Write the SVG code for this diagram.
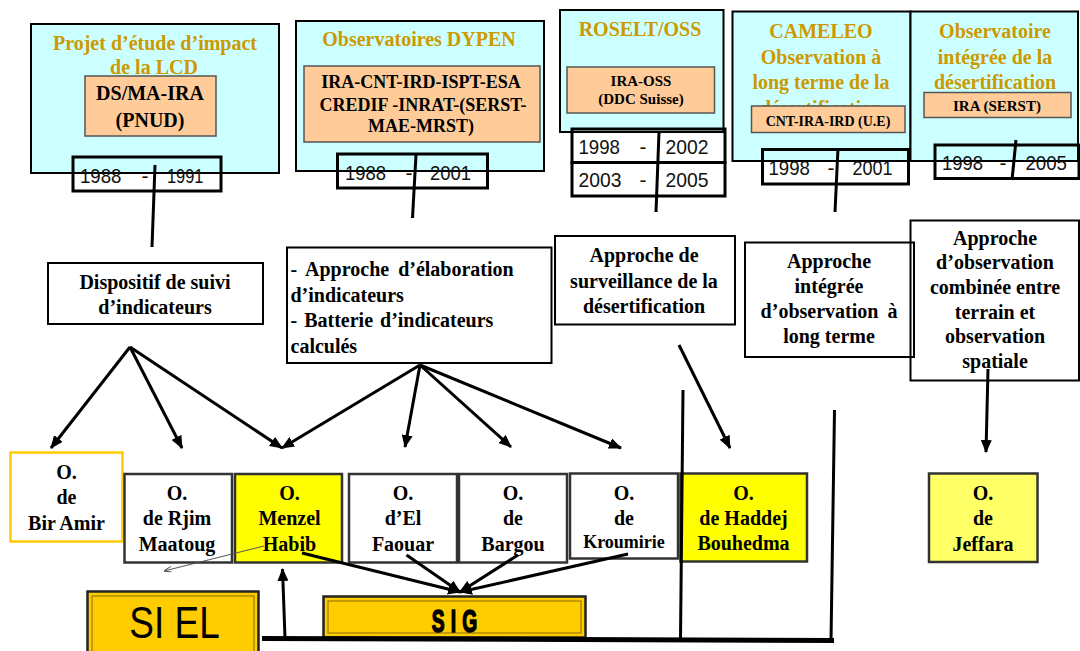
<svg xmlns="http://www.w3.org/2000/svg" width="1080" height="651" viewBox="0 0 1080 651">
<defs>
<style>
.cy{fill:#CCFFFF;stroke:#000;stroke-width:2}
.or{fill:#FFCC99;stroke:#555;stroke-width:1.5}
.dbox{fill:none;stroke:#000;stroke-width:3}
.ttl{font-family:"Liberation Serif","Times New Roman",serif;font-weight:bold;font-size:20px;fill:#CC9900;text-anchor:middle}
.bt{font-family:"Liberation Serif","Times New Roman",serif;font-weight:bold;font-size:20px;fill:#000;text-anchor:middle}
.lt{font-family:"Liberation Serif","Times New Roman",serif;font-weight:bold;font-size:20px;fill:#000}
.dt{font-family:"Liberation Sans",Arial,sans-serif;font-size:21px;fill:#111}
.dm{font-family:"Liberation Sans",Arial,sans-serif;font-size:21px;fill:#111;text-anchor:middle}
.ap{fill:#fff;stroke:#000;stroke-width:2}
.nd{fill:#fff;stroke:#333;stroke-width:2.5}
.ln{stroke:#000;stroke-width:3;fill:none}
.ar{stroke:#000;stroke-width:3;fill:none;marker-end:url(#ah)}
.gb{fill:#FFCC00;stroke:#222;stroke-width:2.5}
.gi{fill:none;stroke:#8A6A00;stroke-width:1}
</style>
<marker id="ah" markerUnits="userSpaceOnUse" markerWidth="13" markerHeight="11" refX="12" refY="5.5" orient="auto"><path d="M0,0 L13,5.5 L0,11 z" fill="#000"/></marker>
<marker id="ahg" markerUnits="userSpaceOnUse" markerWidth="8" markerHeight="6" refX="8" refY="3" orient="auto"><path d="M0,0 L8,3 L0,6" fill="none" stroke="#555" stroke-width="1"/></marker>
</defs>
<rect width="1080" height="651" fill="#fff"/>

<g id="proj-lcd">
<rect class="cy" x="31" y="24" width="248" height="149"/>
<text class="ttl" x="155" y="50">Projet d’étude d’impact</text>
<text class="ttl" x="154" y="74">de la LCD</text>
<rect class="or" x="85" y="76" width="131" height="60"/>
<text class="bt" x="150" y="100">DS/MA-IRA</text>
<text class="bt" x="150" y="127">(PNUD)</text>
<rect class="dbox" x="73" y="157" width="148" height="34"/>
<text class="dt" x="80" y="183" textLength="41.5" lengthAdjust="spacingAndGlyphs">1988</text>
<text class="dm" x="145" y="183">-</text>
<text class="dt" x="167" y="183" textLength="36.5" lengthAdjust="spacingAndGlyphs">1991</text>
</g>

<g id="dypen">
<rect class="cy" x="296" y="21" width="248" height="150"/>
<text class="ttl" x="419" y="46">Observatoires DYPEN</text>
<rect class="or" x="304" y="66" width="236" height="76"/>
<text class="bt" x="421" y="88" style="font-size:18px">IRA-CNT-IRD-ISPT-ESA</text>
<text class="bt" x="423" y="111" style="font-size:18px">CREDIF -INRAT-(SERST-</text>
<text class="bt" x="421" y="132" style="font-size:18px">MAE-MRST)</text>
<rect class="dbox" x="337.5" y="154" width="150" height="34"/>
<text class="dt" x="345" y="180" textLength="41" lengthAdjust="spacingAndGlyphs">1988</text>
<text class="dm" x="409" y="180">-</text>
<text class="dt" x="430" y="180" textLength="41" lengthAdjust="spacingAndGlyphs">2001</text>
</g>

<g id="roselt">
<rect class="cy" x="560" y="10" width="163.5" height="122"/>
<text class="ttl" x="640" y="36">ROSELT/OSS</text>
<rect class="or" x="567" y="67" width="147.5" height="46"/>
<text class="bt" x="641" y="86" style="font-size:15px">IRA-OSS</text>
<text class="bt" x="641" y="104" style="font-size:15px">(DDC Suisse)</text>
<rect class="dbox" x="572" y="129" width="153" height="33.5"/>
<rect class="dbox" x="572" y="162.5" width="153" height="33.5"/>
<text class="dt" x="578.5" y="154" textLength="41.5" lengthAdjust="spacingAndGlyphs">1998</text>
<text class="dm" x="643" y="154">-</text>
<text class="dt" x="665.5" y="154" textLength="43" lengthAdjust="spacingAndGlyphs">2002</text>
<text class="dt" x="578.5" y="187" textLength="43" lengthAdjust="spacingAndGlyphs">2003</text>
<text class="dm" x="643" y="187">-</text>
<text class="dt" x="665.5" y="187" textLength="43" lengthAdjust="spacingAndGlyphs">2005</text>
</g>

<g id="cameleo">
<rect class="cy" x="732.5" y="11.5" width="178" height="149.5"/>
<text class="ttl" x="821" y="38">CAMELEO</text>
<text class="ttl" x="821" y="64">Observation à</text>
<text class="ttl" x="821" y="89">long terme de la</text>
<text class="ttl" x="821" y="114.5">désertification</text>
<rect class="or" x="751.5" y="106" width="153.5" height="26.5"/>
<text class="bt" x="828" y="125.5" style="font-size:14px">CNT-IRA-IRD (U.E)</text>
<rect class="dbox" x="762.5" y="149.5" width="146" height="34.5"/>
<text class="dt" x="768.5" y="175" textLength="41.5" lengthAdjust="spacingAndGlyphs">1998</text>
<text class="dm" x="831" y="175">-</text>
<text class="dt" x="852.5" y="175" textLength="40" lengthAdjust="spacingAndGlyphs">2001</text>
</g>

<g id="obs-integree">
<rect class="cy" x="910.5" y="11.5" width="167.5" height="149.5"/>
<text class="ttl" x="995" y="38">Observatoire</text>
<text class="ttl" x="995" y="64">intégrée de la</text>
<text class="ttl" x="995" y="88.5">désertification</text>
<rect class="or" x="924" y="92.5" width="147" height="25"/>
<text class="bt" x="997" y="111" style="font-size:15px">IRA (SERST)</text>
<rect class="dbox" x="935" y="145" width="144" height="33.5"/>
<text class="dt" x="942" y="170" textLength="41" lengthAdjust="spacingAndGlyphs">1998</text>
<text class="dm" x="1003" y="170">-</text>
<text class="dt" x="1025.5" y="170" textLength="41.5" lengthAdjust="spacingAndGlyphs">2005</text>
</g>

<g id="dispositif">
<rect class="ap" x="48" y="263" width="215" height="61"/>
<text class="bt" x="155" y="289">Dispositif de suivi</text>
<text class="bt" x="155" y="314">d’indicateurs</text>
</g>

<g id="elaboration">
<rect class="ap" x="287" y="247.5" width="264.5" height="115.5"/>
<text class="lt" x="290.5" y="276" style="word-spacing:4px">- Approche d’élaboration</text>
<text class="lt" x="290.5" y="301.5">d’indicateurs</text>
<text class="lt" x="290.5" y="327" style="word-spacing:2px">- Batterie d’indicateurs</text>
<text class="lt" x="290.5" y="352.5">calculés</text>
</g>

<g id="surveillance">
<rect class="ap" x="555" y="236" width="180" height="88.5"/>
<text class="bt" x="644" y="262">Approche de</text>
<text class="bt" x="644" y="288">surveillance de la</text>
<text class="bt" x="644" y="313">désertification</text>
</g>

<g id="combinee">
<rect class="ap" x="910.5" y="220.5" width="168.5" height="160"/>
<text class="bt" x="995" y="244.5">Approche</text>
<text class="bt" x="995" y="269">d’observation</text>
<text class="bt" x="995" y="294">combinée entre</text>
<text class="bt" x="995" y="318.5">terrain et</text>
<text class="bt" x="995" y="343">observation</text>
<text class="bt" x="995" y="367.5">spatiale</text>
</g>

<g id="long-terme">
<rect x="745" y="242.5" width="169" height="114.5" fill="none" stroke="#000" stroke-width="2"/>
<text class="bt" x="829" y="268">Approche</text>
<text class="bt" x="829" y="293">intégrée</text>
<text class="bt" x="829" y="318" style="word-spacing:4px">d’observation à</text>
<text class="bt" x="829" y="343">long terme</text>
</g>

<g id="bir-amir">
<rect x="10.5" y="452.5" width="112" height="89" fill="#fff" stroke="#FFCC00" stroke-width="2.5"/>
<text class="bt" x="66.5" y="478.5">O.</text>
<text class="bt" x="66.5" y="503.5">de</text>
<text class="bt" x="66.5" y="529.5">Bir Amir</text>
</g>
<g id="rjim">
<rect class="nd" x="124.5" y="474" width="107.5" height="88.5"/>
<text class="bt" x="177" y="500">O.</text>
<text class="bt" x="177" y="525">de Rjim</text>
<text class="bt" x="177" y="550.5">Maatoug</text>
</g>
<g id="menzel">
<rect class="nd" x="235" y="474" width="107" height="88.5" style="fill:#FFFF00"/>
<text class="bt" x="289.5" y="500">O.</text>
<text class="bt" x="289.5" y="525">Menzel</text>
<text class="bt" x="289.5" y="550.5">Habib</text>
</g>
<g id="faouar">
<rect class="nd" x="349" y="474" width="108" height="88.5"/>
<text class="bt" x="403" y="500">O.</text>
<text class="bt" x="403" y="525">d’El</text>
<text class="bt" x="403" y="550.5">Faouar</text>
</g>
<g id="bargou">
<rect class="nd" x="459" y="474" width="108" height="88.5"/>
<text class="bt" x="513" y="500">O.</text>
<text class="bt" x="513" y="525">de</text>
<text class="bt" x="513" y="550.5">Bargou</text>
</g>
<g id="kroumirie">
<rect class="nd" x="570" y="473.5" width="108" height="85"/>
<text class="bt" x="624" y="500">O.</text>
<text class="bt" x="624" y="525">de</text>
<text class="bt" x="624" y="547.5" style="font-size:18px">Kroumirie</text>
</g>
<g id="haddej">
<rect class="nd" x="680.5" y="473.5" width="126.5" height="88" style="fill:#FFFF00"/>
<text class="bt" x="743.5" y="500">O.</text>
<text class="bt" x="743.5" y="525">de Haddej</text>
<text class="bt" x="743.5" y="550">Bouhedma</text>
</g>
<g id="jeffara">
<rect class="nd" x="929" y="473.5" width="108.5" height="88.5" style="fill:#FFFF66"/>
<text class="bt" x="983" y="500">O.</text>
<text class="bt" x="983" y="525">de</text>
<text class="bt" x="983" y="550.5">Jeffara</text>
</g>

<g id="siel">
<rect class="gb" x="87.5" y="591.5" width="171" height="70"/>
<rect class="gi" x="92" y="596" width="162" height="70"/>
<text transform="translate(174.5,638) scale(0.84,1)" text-anchor="middle" font-family="'Liberation Sans',Arial,sans-serif" font-size="44" fill="#000">SI EL</text>
</g>
<g id="sig">
<rect class="gb" x="323.5" y="596.5" width="262" height="41"/>
<rect class="gi" x="328" y="601" width="253" height="32"/>
<text transform="translate(457.5,632) scale(0.62,1)" text-anchor="middle" font-family="'Liberation Sans',Arial,sans-serif" font-weight="bold" font-size="31" letter-spacing="10" fill="#000" stroke="#000" stroke-width="1.6">SIG</text>
</g>

<g id="connectors">
<line class="ln" x1="155" y1="165" x2="152" y2="247"/>
<line class="ln" x1="416" y1="155" x2="412.5" y2="218"/>
<line class="ln" x1="659" y1="132" x2="656" y2="212"/>
<line class="ln" x1="838" y1="148" x2="835" y2="212"/>
<line class="ln" x1="1016" y1="140" x2="1012" y2="180"/>
<line class="ar" x1="130" y1="347" x2="51" y2="448"/>
<line class="ar" x1="130" y1="347" x2="182" y2="448"/>
<line class="ar" x1="130" y1="347" x2="282" y2="448"/>
<line class="ar" x1="420" y1="365" x2="282" y2="448"/>
<line class="ar" x1="420" y1="365" x2="405" y2="447"/>
<line class="ar" x1="420" y1="365" x2="511" y2="447"/>
<line class="ar" x1="420" y1="365" x2="621" y2="448"/>
<line class="ar" x1="679" y1="345" x2="730" y2="448"/>
<line class="ar" x1="988" y1="369" x2="986" y2="452"/>
<line class="ln" x1="683" y1="390" x2="680.5" y2="640"/>
<line class="ln" x1="834.5" y1="410" x2="831" y2="641"/>
<line x1="262" y1="638.5" x2="834" y2="640.5" stroke="#000" stroke-width="5"/>
<line class="ar" x1="285" y1="638" x2="282.5" y2="569"/>
<line class="ar" x1="302" y1="553" x2="460" y2="592"/>
<line class="ar" x1="406.5" y1="555" x2="460" y2="592"/>
<line class="ar" x1="518" y1="555" x2="460" y2="592"/>
<line class="ar" x1="628" y1="554" x2="460" y2="592"/>
<line x1="264" y1="546" x2="164" y2="571" stroke="#555" stroke-width="1" marker-end="url(#ahg)"/>
</g>
</svg>
